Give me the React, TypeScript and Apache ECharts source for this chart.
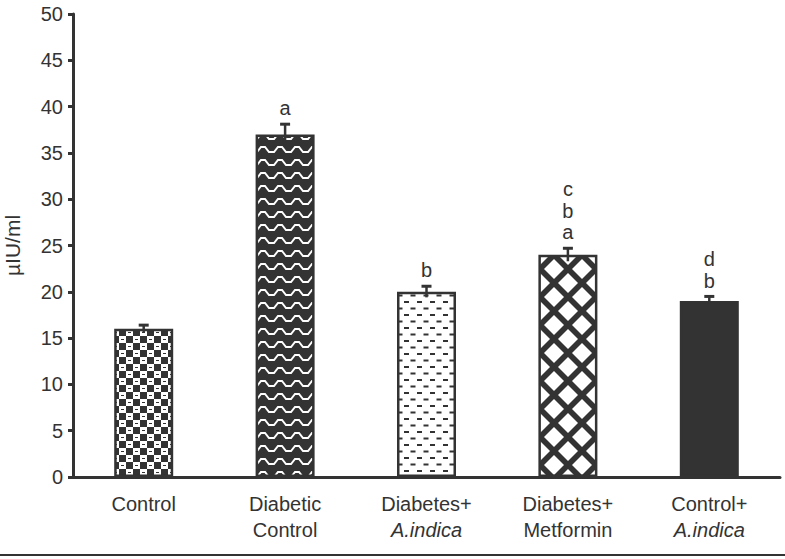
import React, { useEffect, useRef } from "react";
import * as echarts from "echarts";

const categories = ["Control", "Diabetic\nControl", "Diabetes+\n{i|A.indica}", "Diabetes+\nMetformin", "Control+\n{i|A.indica}"];
const values = [16, 37, 20, 24, 19];
const errors = [0.4, 1.1, 0.6, 0.7, 0.5];
const letters = ["", "a", "b", "c\nb\na", "d\nb"];
const yTicks = [0, 5, 10, 15, 20, 25, 30, 35, 40, 45, 50];

const DARK = "#333333";

function makeTile(w: number, h: number, draw: (ctx: CanvasRenderingContext2D) => void) {
  const c = document.createElement("canvas");
  c.width = w;
  c.height = h;
  const ctx = c.getContext("2d")!;
  draw(ctx);
  return c;
}

function patterns() {
  const checker = makeTile(14, 14, (ctx) => {
    ctx.fillStyle = "#ffffff";
    ctx.fillRect(0, 0, 14, 14);
    ctx.fillStyle = DARK;
    ctx.fillRect(0, 0, 7, 7);
    ctx.fillRect(7, 7, 7, 7);
    ctx.fillRect(9, 3, 3, 1);
    ctx.fillRect(2, 10, 3, 1);
  });
  const zigzag = makeTile(17, 13, (ctx) => {
    ctx.fillStyle = DARK;
    ctx.fillRect(0, 0, 17, 13);
    ctx.strokeStyle = "#ffffff";
    ctx.lineWidth = 2;
    ctx.beginPath();
    ctx.moveTo(-2, 9);
    ctx.lineTo(2, 9);
    ctx.lineTo(6, 4);
    ctx.lineTo(10, 4);
    ctx.lineTo(14, 9);
    ctx.lineTo(19, 9);
    ctx.stroke();
  });
  const dashes = makeTile(13, 13, (ctx) => {
    ctx.fillStyle = "#ffffff";
    ctx.fillRect(0, 0, 13, 13);
    ctx.fillStyle = DARK;
    ctx.fillRect(1, 2, 5, 2);
    ctx.fillRect(7.5, 8.5, 5, 2);
  });
  const diamonds = makeTile(28, 28, (ctx) => {
    ctx.fillStyle = DARK;
    ctx.fillRect(0, 0, 28, 28);
    ctx.fillStyle = "#ffffff";
    const d = (cx: number, cy: number, r: number) => {
      ctx.beginPath();
      ctx.moveTo(cx, cy - r);
      ctx.lineTo(cx + r, cy);
      ctx.lineTo(cx, cy + r);
      ctx.lineTo(cx - r, cy);
      ctx.closePath();
      ctx.fill();
    };
    const r = 10;
    for (let a = -1; a <= 1; a++) {
      for (let b = -1; b <= 1; b++) {
        d(8 + 28 * a, 3 + 28 * b, r);
        d(22 + 28 * a, 17 + 28 * b, r);
      }
    }
  });
  return [
    { image: checker, repeat: "repeat" },
    { image: zigzag, repeat: "repeat" },
    { image: dashes, repeat: "repeat" },
    { image: diamonds, repeat: "repeat" },
    DARK,
  ];
}

export default function App() {
  const ref = useRef<HTMLDivElement>(null);
  useEffect(() => {
    if (!ref.current) return;
    const chart = echarts.init(ref.current, null, { renderer: "svg" });
    const fills = patterns();
    const font = "Liberation Sans, Arial, sans-serif";
    chart.setOption({
      animation: false,
      backgroundColor: "#ffffff",
      textStyle: { fontFamily: font },
      grid: { left: 73, right: 5, top: 14, bottom: 82, containLabel: false, outerBoundsMode: "none" },
      xAxis: {
        type: "category",
        data: categories,
        axisLine: { lineStyle: { color: DARK, width: 3 } },
        axisTick: { show: false },
        axisLabel: {
          color: DARK,
          fontSize: 20,
          lineHeight: 26,
          margin: 14,
          fontFamily: font,
          interval: 0,
          rich: { i: { fontStyle: "italic", fontSize: 20, lineHeight: 26, color: DARK, fontFamily: font } },
        },
      },
      yAxis: {
        type: "value",
        min: 0,
        max: 50,
        interval: 5,
        name: "µIU/ml",
        nameLocation: "middle",
        nameGap: 50,
        nameTextStyle: { color: DARK, fontSize: 21, fontFamily: font },
        axisLine: { show: true, lineStyle: { color: DARK, width: 3 } },
        axisTick: { show: true, length: 5, lineStyle: { color: DARK, width: 3 } },
        axisLabel: {
          color: DARK,
          fontSize: 20,
          margin: 10,
          fontFamily: font,
          formatter: (v: number) => (yTicks.includes(v) ? String(v) : ""),
        },
        splitLine: { show: false },
      },
      series: [
        {
          type: "bar",
          barWidth: 59,
          data: values.map((v, i) => ({
            value: v,
            itemStyle: { color: fills[i], borderColor: DARK, borderWidth: 2.5 },
          })),
        },
        {
          type: "custom",
          z: 10,
          data: values.map((v, i) => [i, v, errors[i]]),
          renderItem: (params: any, api: any) => {
            const i = api.value(0);
            const v = api.value(1);
            const e = api.value(2);
            const idx = params.dataIndex;
            const top = api.coord([i, v + e]);
            const bot = api.coord([i, v - e]);
            const half = 5;
            return {
              type: "group",
              children: [
                { type: "line", shape: { x1: top[0], y1: top[1], x2: bot[0], y2: bot[1] }, style: { stroke: DARK, lineWidth: 2.5 } },
                { type: "line", shape: { x1: top[0] - half, y1: top[1], x2: top[0] + half, y2: top[1] }, style: { stroke: DARK, lineWidth: 3 } },
                {
                  type: "text",
                  style: {
                    text: letters[idx],
                    x: top[0],
                    y: top[1] - 5,
                    align: "center",
                    verticalAlign: "bottom",
                    fontSize: 20,
                    lineHeight: 21.7,
                    fill: DARK,
                    fontFamily: font,
                  },
                },
              ],
            };
          },
        },
      ],
      graphic: [
        { type: "line", shape: { x1: 0, y1: 555, x2: 785, y2: 555 }, style: { stroke: DARK, lineWidth: 2 } },
      ],
    });
    return () => chart.dispose();
  }, []);
  return <div ref={ref} style={{ position: "absolute", left: 0, top: 0, width: 785, height: 559 }} />;
}
